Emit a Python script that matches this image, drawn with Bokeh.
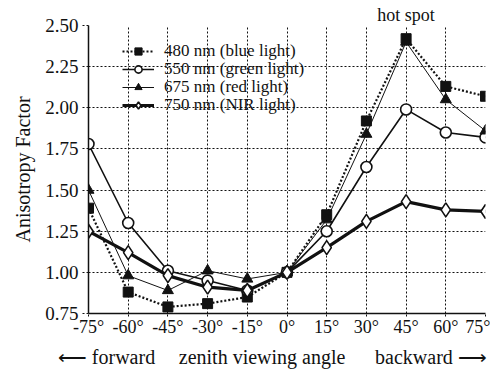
from bokeh.plotting import figure
from bokeh.models import (FixedTicker, Legend, LegendItem, CustomJSTickFormatter,
                          NumeralTickFormatter, LinearAxis)
from bokeh.embed import file_html
from bokeh.resources import INLINE

# ---- data ----
angles = [-75, -60, -45, -30, -15, 0, 15, 30, 45, 60, 75]
blue480 = [1.39, 0.88, 0.79, 0.81, 0.85, 1.00, 1.35, 1.92, 2.42, 2.13, 2.07]
green550 = [1.78, 1.30, 1.01, 0.95, 0.89, 1.00, 1.25, 1.64, 1.99, 1.85, 1.82]
red675 = [1.50, 0.98, 0.89, 1.01, 0.96, 1.00, 1.32, 1.84, 2.40, 2.05, 1.86]
nir750 = [1.25, 1.12, 0.98, 0.91, 0.89, 1.00, 1.15, 1.31, 1.43, 1.38, 1.37]
y_ticks = [0.75, 1.00, 1.25, 1.50, 1.75, 2.00, 2.25, 2.50]
labels = ["480 nm (blue light)", "550 nm (green light)", "675 nm (red light)", "750 nm (NIR light)"]
hot_spot_angle = [45]
hot_spot_text = "hot spot"
bottom_texts = ["\u27f5 forward", "zenith viewing angle", "backward \u27f6"]
bottom_text_pos = [-68.2, -9.4, 54.4]

FONT = "Liberation Serif"
INK = "#111111"

p = figure(width=490, height=370, x_range=(-75, 75), y_range=(0.75, 2.5),
           output_backend="svg", toolbar_location=None,
           min_border_left=88, min_border_right=5, min_border_top=25, min_border_bottom=57)
p.outline_line_color = None
p.background_fill_color = "white"
p.border_fill_color = "white"

xax = p.below[0]
yax = p.left[0]

# axes
xax.ticker = FixedTicker(ticks=angles)
yax.ticker = FixedTicker(ticks=y_ticks)
xax.formatter = CustomJSTickFormatter(code="return tick + '\u00b0';")
yax.formatter = NumeralTickFormatter(format="0.00")
for ax in (xax, yax):
    ax.axis_line_color = INK
    ax.axis_line_width = 1.5
    ax.major_tick_line_color = INK
    ax.major_tick_line_dash = "2 2"
    ax.major_tick_in = 0
    ax.minor_tick_line_color = None
    ax.major_label_text_font = FONT
    ax.major_label_text_color = INK
yax.major_tick_out = 6
yax.major_label_standoff = 4
yax.major_label_text_font_size = "19px"
xax.major_tick_out = 3
xax.major_label_standoff = 0
xax.major_label_text_font_size = "18px"
yax.axis_label = "Anisotropy Factor"
yax.axis_label_text_font = FONT
yax.axis_label_text_font_style = "normal"
yax.axis_label_text_font_size = "20px"
yax.axis_label_text_color = INK
yax.axis_label_standoff = 8

# grid
for g in (p.xgrid, p.ygrid):
    g.grid_line_color = INK
    g.grid_line_dash = "2 2"
    g.grid_line_width = 1

def plain_axis(ax, size, standoff):
    ax.axis_line_color = None
    ax.major_tick_line_color = None
    ax.minor_tick_line_color = None
    ax.major_tick_out = 0
    ax.major_tick_in = 0
    ax.minor_tick_out = 0
    ax.minor_tick_in = 0
    ax.major_label_standoff = standoff
    ax.major_label_text_font = FONT
    ax.major_label_text_font_size = size
    ax.major_label_text_color = INK

# "hot spot" above the frame
top_ax = LinearAxis(ticker=FixedTicker(ticks=hot_spot_angle),
                    formatter=CustomJSTickFormatter(code="return '%s';" % hot_spot_text))
plain_axis(top_ax, "18px", 1)
p.add_layout(top_ax, "above")

# bottom direction labels
bot_ax = LinearAxis(ticker=FixedTicker(ticks=bottom_text_pos),
                    formatter=CustomJSTickFormatter(
                        args=dict(texts=bottom_texts), code="return texts[index];"))
plain_axis(bot_ax, "20px", 6)
p.add_layout(bot_ax, "below")

# series
r_b_l = p.line(angles, blue480, line_color=INK, line_width=2.2, line_dash="2 2")
r_b_m = p.scatter(angles, blue480, marker="square", size=10, fill_color=INK, line_color=INK)
r_g_l = p.line(angles, green550, line_color=INK, line_width=1.6)
r_g_m = p.scatter(angles, green550, marker="circle", size=11, fill_color="white", line_color=INK, line_width=1.6)
r_r_l = p.line(angles, red675, line_color=INK, line_width=1)
r_r_m = p.scatter(angles, red675, marker="triangle", size=11, fill_color=INK, line_color=INK)
r_n_l = p.line(angles, nir750, line_color=INK, line_width=3.2)
r_n_m = p.scatter(angles, nir750, marker="diamond", size=14, fill_color="white", line_color=INK, line_width=1.6)

series_renderers = [[r_b_l, r_b_m], [r_g_l, r_g_m], [r_r_l, r_r_m], [r_n_l, r_n_m]]
legend_y = [252, 234, 216, 198]
for lab, rends, ly in zip(labels, series_renderers, legend_y):
    lg = Legend(items=[LegendItem(label=lab, renderers=rends)], location=(34, ly))
    lg.padding = 0
    lg.margin = 0
    lg.spacing = 0
    lg.glyph_width = 32
    lg.glyph_height = 18
    lg.label_height = 18
    lg.label_standoff = 10
    lg.label_text_font = FONT
    lg.label_text_font_size = "17px"
    lg.label_text_color = INK
    lg.background_fill_alpha = 0
    lg.border_line_color = None
    p.add_layout(lg)

open("out.html", "w").write(file_html(p, INLINE))
